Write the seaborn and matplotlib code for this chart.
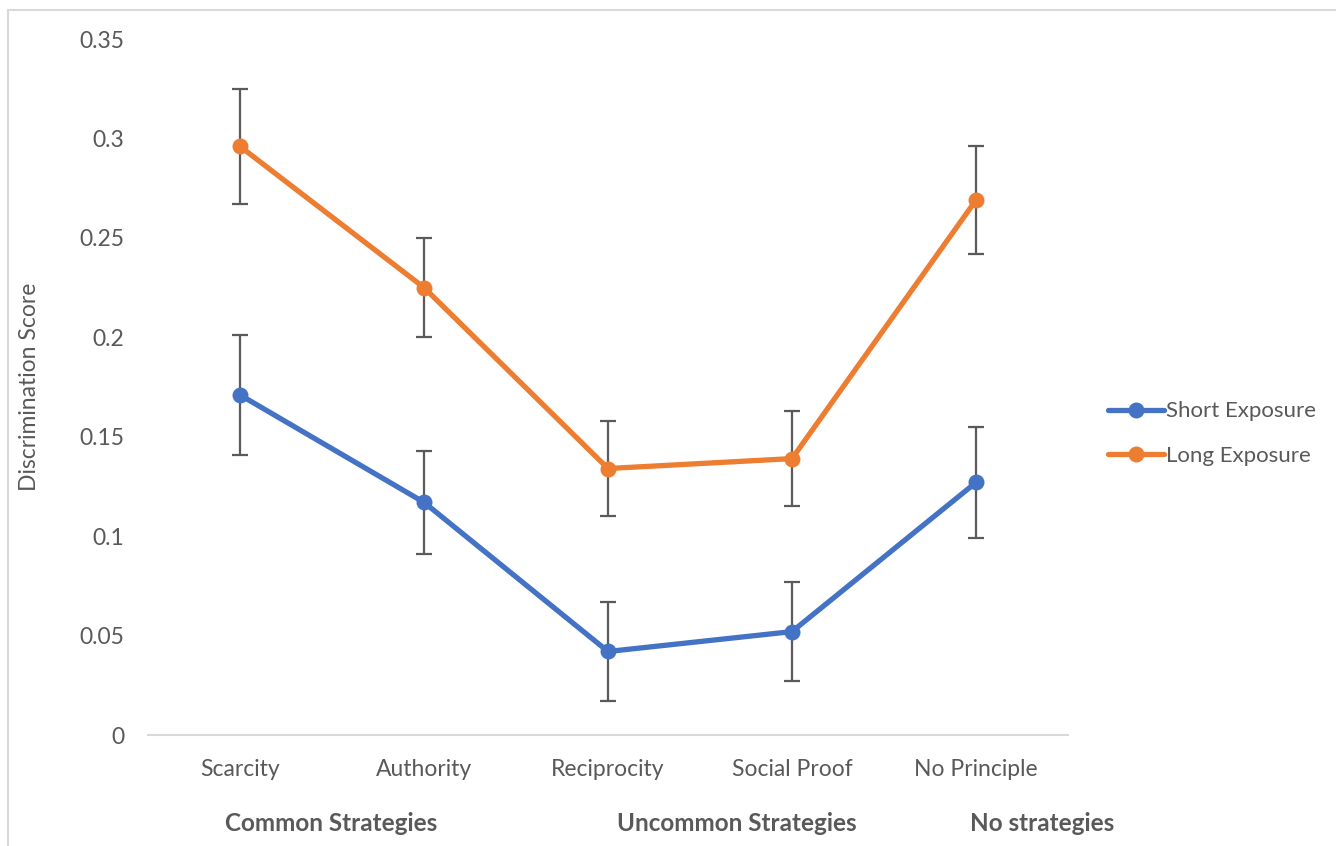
import numpy as np
import pandas as pd
import matplotlib
matplotlib.use("Agg")
import matplotlib.pyplot as plt
import seaborn as sns
from matplotlib.patches import Rectangle

categories = ["Scarcity", "Authority", "Reciprocity", "Social Proof", "No Principle"]
short_vals = [0.171, 0.117, 0.042, 0.052, 0.127]
short_err = [0.030, 0.026, 0.025, 0.025, 0.028]
long_vals = [0.296, 0.225, 0.134, 0.139, 0.269]
long_err = [0.029, 0.025, 0.024, 0.024, 0.027]
series_names = ["Short Exposure", "Long Exposure"]
group_labels = ["Common Strategies", "Uncommon Strategies", "No strategies"]
group_pos = [0.495, 2.70, 4.36]
yticks = [0, 0.05, 0.1, 0.15, 0.2, 0.25, 0.3, 0.35]
ytick_labels = ["0", "0.05", "0.1", "0.15", "0.2", "0.25", "0.3", "0.35"]

sns.set_style("white")
plt.rcParams['font.family'] = ['Lato', 'DejaVu Sans']

colors = {"Short Exposure": "#4472C4", "Long Exposure": "#ED7D31"}
text_color = "#595959"

df = pd.DataFrame({
    "x": list(range(len(categories))) * 2,
    "value": short_vals + long_vals,
    "err": short_err + long_err,
    "series": [series_names[0]] * 5 + [series_names[1]] * 5,
})

fig = plt.figure(figsize=(13.36, 8.46), dpi=100)
ax = fig.add_axes([148/1336, 1 - 735/846, 920/1336, 696/846])

# error bars first
for s in series_names:
    d = df[df.series == s]
    ax.errorbar(d.x, d.value, yerr=d.err, fmt="none", ecolor="#5a5a5a",
                elinewidth=1.6, capsize=6, capthick=1.6, zorder=1)

sns.lineplot(data=df, x="x", y="value", hue="series", palette=colors,
             marker="o", markersize=11.5, markeredgewidth=0, linewidth=3.8,
             ax=ax, zorder=3, legend=True)

ax.set_xlim(-0.5, 4.5)
ax.set_ylim(0, 0.35)
ax.set_xticks(range(len(categories)))
ax.set_xticklabels(categories, fontsize=16.5, color=text_color)
ax.set_yticks(yticks)
ax.set_yticklabels(ytick_labels, fontsize=16.5, color=text_color)
ax.tick_params(axis="x", length=0, pad=17)
ax.tick_params(axis="y", length=0, pad=17)
ax.set_xlabel("")
ax.set_ylabel("Discrimination Score", fontsize=16.5, color=text_color, labelpad=28)

for sp in ["top", "right", "left"]:
    ax.spines[sp].set_visible(False)
ax.spines["bottom"].set_color("#d9d9d9")
ax.spines["bottom"].set_linewidth(1.5)

for lab, pos in zip(group_labels, group_pos):
    ax.text(pos, -0.0445, lab, ha="center", va="center", fontsize=17.5,
            fontweight="bold", color=text_color, transform=ax.transData, clip_on=False)

handles, labels = ax.get_legend_handles_labels()
leg = ax.legend(handles, labels, loc="center left", bbox_to_anchor=(1.022, 0.433),
                frameon=False, fontsize=16, handlelength=2.5, handletextpad=0.1,
                labelspacing=1.1, labelcolor=text_color)

fig.patches.append(Rectangle((8/1336, -0.1), 1.2, 1 - 10/846 + 0.1, transform=fig.transFigure,
                             fill=False, edgecolor="#d9d9d9", linewidth=1.5))

fig.savefig("out.png", dpi=100)
